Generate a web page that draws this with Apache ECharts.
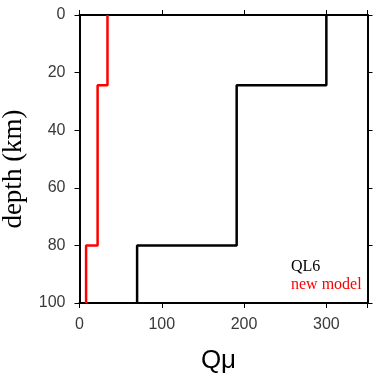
<!DOCTYPE html>
<html>
<head>
<meta charset="utf-8">
<script src="https://cdn.jsdelivr.net/npm/echarts@6/dist/echarts.min.js"></script>
<style>
  html, body { margin: 0; padding: 0; background: #fff; }
  #chart { width: 373px; height: 375px; }
</style>
</head>
<body>
<div id="chart"></div>
<script>
// layer boundaries (km) and Q values for each layer
const depthBounds = [0, 24.4, 80, 100]
const qQL6 = [300, 191, 70]
const qNew = [34, 22, 8]
const xTicks = [0, 100, 200, 300]
const yTicks = [0, 20, 40, 60, 80, 100]

// turn layer values into a step profile
const toSteps = (vals) => {
  const pts = []
  vals.forEach((v, i) => {
    pts.push([v, depthBounds[i]])
    pts.push([v, depthBounds[i + 1]])
  })
  return pts
}

const axisLine = { show: true, onZero: false, lineStyle: { color: '#000', width: 2 } }
const axisTick = { show: true, inside: false, length: 5, lineStyle: { color: '#000', width: 1 } }

const chart = echarts.init(document.getElementById('chart'))
chart.setOption({
  animation: false,
  grid: { left: 79.5, top: 15, width: 288, height: 288, containLabel: false, outerBoundsMode: 'none' },
  legend: {
    orient: 'vertical',
    left: 286,
    top: 259,
    padding: 0,
    itemWidth: 0,
    itemHeight: 0,
    itemGap: 2,
    icon: 'rect',
    textStyle: { fontFamily: 'Liberation Serif', fontSize: 16 },
    data: [
      { name: 'QL6', textStyle: { color: '#000' } },
      { name: 'new model', textStyle: { color: '#ff0000' } }
    ]
  },
  xAxis: [
    {
      type: 'value', position: 'bottom', min: 0, max: 350, interval: 100,
      axisLine, axisTick, splitLine: { show: false },
      axisLabel: {
        margin: 14, color: '#3a3a3a', fontFamily: 'Liberation Sans', fontSize: 16,
        formatter: v => xTicks.includes(v) ? String(v) : ''
      },
      name: 'Qμ', nameLocation: 'middle', nameGap: 45,
      nameTextStyle: { fontFamily: 'Liberation Sans', fontSize: 26, color: '#000', padding: [0, 10, 0, 0] }
    },
    {
      type: 'value', position: 'top', min: 0, max: 350, interval: 100,
      axisLine, axisTick, splitLine: { show: false }, axisLabel: { show: false }
    }
  ],
  yAxis: [
    {
      type: 'value', position: 'left', inverse: true, min: 0, max: 100, interval: 20,
      axisLine, axisTick, splitLine: { show: false },
      axisLabel: {
        margin: 14, color: '#3a3a3a', fontFamily: 'Liberation Sans', fontSize: 16,
        formatter: v => yTicks.includes(v) ? String(v) : ''
      },
      name: 'depth (km)', nameLocation: 'middle', nameGap: 41,
      nameTextStyle: { fontFamily: 'Liberation Serif', fontSize: 27, color: '#000', padding: [0, 20, 0, 0] }
    },
    {
      type: 'value', position: 'right', inverse: true, min: 0, max: 100, interval: 20,
      axisLine, axisTick, splitLine: { show: false }, axisLabel: { show: false }
    }
  ],
  series: [
    {
      name: 'QL6', type: 'line', data: toSteps(qQL6), symbol: 'none',
      lineStyle: { color: '#000', width: 2.5 }, itemStyle: { color: '#000' }, z: 3
    },
    {
      name: 'new model', type: 'line', data: toSteps(qNew), symbol: 'none',
      lineStyle: { color: '#ff0000', width: 2.5 }, itemStyle: { color: '#ff0000' }, z: 4
    }
  ]
})
</script>
</body>
</html>
